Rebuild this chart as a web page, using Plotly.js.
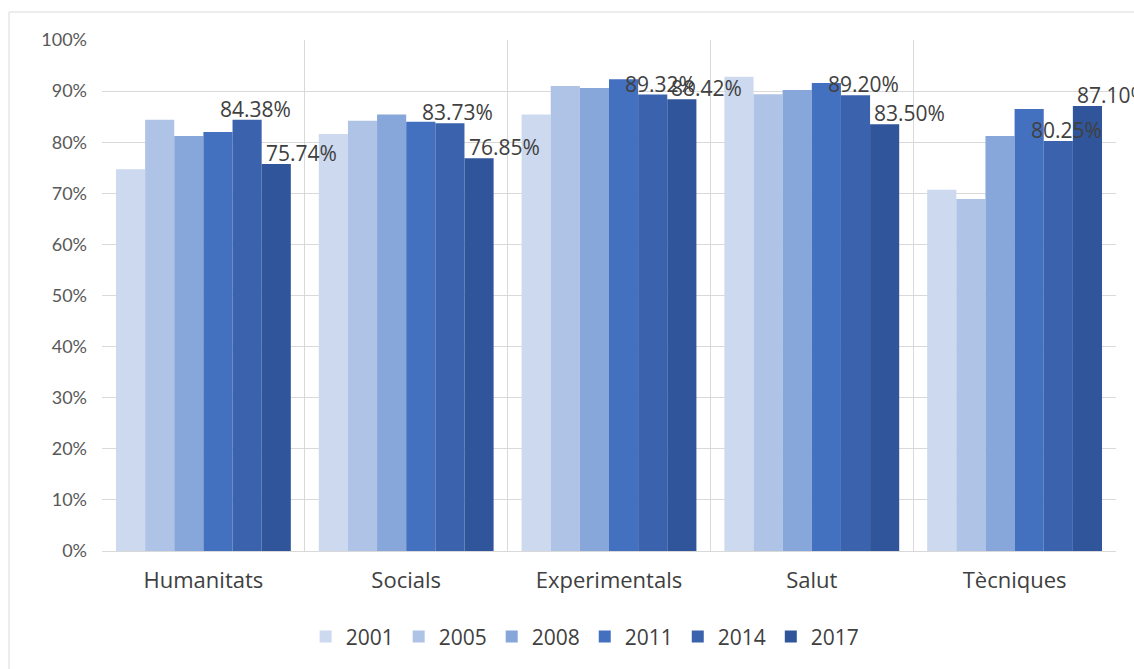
<!DOCTYPE html>
<html>
<head>
<meta charset="utf-8">
<script src="https://cdn.plot.ly/plotly-3.0.1.min.js"></script>
<style>html,body{margin:0;padding:0;background:#fff;}#chart{width:1134px;height:669px;}</style>
</head>
<body>
<div id="chart"></div>
<script>
const categories = ["Humanitats", "Socials", "Experimentals", "Salut", "Tècniques"];
const years = ["2001", "2005", "2008", "2011", "2014", "2017"];
const v2001 = [74.7, 81.6, 85.4, 92.8, 70.7];
const v2005 = [84.4, 84.2, 91.0, 89.4, 68.9];
const v2008 = [81.2, 85.4, 90.6, 90.2, 81.2];
const v2011 = [82.0, 84.0, 92.3, 91.6, 86.5];
const v2014 = [84.38, 83.73, 89.32, 89.20, 80.25];
const v2017 = [75.74, 76.85, 88.42, 83.50, 87.10];
const labelled = ["2014", "2017"];

const series = [v2001, v2005, v2008, v2011, v2014, v2017];
const colors = ["#CCD9EF", "#AFC3E6", "#87A6DA", "#4470C0", "#3A62AD", "#30559A"];
const bargap = 0.138;

const traces = series.map((vals, i) => ({
  type: "bar",
  name: years[i],
  x: categories,
  y: vals.map(v => v / 100),
  marker: {color: colors[i], line: {width: 0}},
  hoverinfo: "x+y+name"
}));

const groupW = 1 - bargap;
const barW = groupW / years.length;
const labelXShift = {"2014": 8, "2017": 25};
const annotations = [];
labelled.forEach(yr => {
  const si = years.indexOf(yr);
  const off = -groupW / 2 + (si + 0.5) * barW;
  series[si].forEach((v, ci) => {
    annotations.push({
      xref: "x", yref: "y",
      x: ci + off, y: v / 100,
      text: v.toFixed(2) + "%",
      showarrow: false,
      xanchor: "center", yanchor: "middle",
      xshift: labelXShift[yr], yshift: 11,
      font: {family: "Open Sans, sans-serif", size: 21, color: "#404040"}
    });
  });
});

const layout = {
  width: 1134, height: 669,
  margin: {l: 102, r: 18, t: 40, b: 118},
  paper_bgcolor: "#ffffff",
  plot_bgcolor: "#ffffff",
  barmode: "group",
  bargap: bargap,
  bargroupgap: 0,
  showlegend: true,
  legend: {
    orientation: "h",
    xref: "container", yref: "container",
    x: 0.516, xanchor: "center",
    y: 0.048, yanchor: "middle",
    font: {family: "Open Sans, sans-serif", size: 21, color: "#404040"},
    itemwidth: 30,
    traceorder: "normal"
  },
  xaxis: {
    type: "category",
    range: [-0.5, 4.5],
    autorange: false,
    tickson: "boundaries",
    showgrid: true,
    gridcolor: "#D9D9D9",
    gridwidth: 1,
    ticks: "",
    showline: false,
    zeroline: false,
    ticklabelstandoff: 14,
    tickfont: {family: "Open Sans, sans-serif", size: 22, color: "#404040"},
    automargin: false
  },
  yaxis: {
    range: [0, 1],
    autorange: false,
    tickvals: [0, 0.1, 0.2, 0.3, 0.4, 0.5, 0.6, 0.7, 0.8, 0.9, 1.0],
    tickformat: ".0%",
    showgrid: true,
    gridcolor: "#D9D9D9",
    gridwidth: 1,
    zeroline: true,
    zerolinecolor: "#D9D9D9",
    zerolinewidth: 1,
    showline: false,
    ticks: "",
    ticklabelstandoff: 14,
    tickfont: {family: "Lato, sans-serif", size: 18, color: "#595959"},
    automargin: false
  },
  annotations: annotations,
  shapes: [{
    type: "rect", xref: "paper", yref: "paper",
    x0: (9 - 102) / 1014, x1: 1.1,
    y0: -0.3, y1: (551 - 12) / 511,
    line: {color: "#D9D9D9", width: 1},
    fillcolor: "rgba(0,0,0,0)",
    layer: "below"
  }]
};

Plotly.newPlot("chart", traces, layout, {displayModeBar: false, staticPlot: true});
</script>
</body>
</html>
